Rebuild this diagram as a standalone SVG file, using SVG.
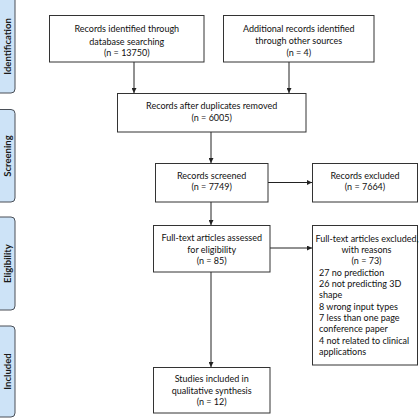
<svg xmlns="http://www.w3.org/2000/svg" width="420" height="420" viewBox="0 0 420 420">
<style>
.tab{fill:#cde3f7;stroke:#4a4f57;stroke-width:1}
.tabt{font-family:Lato,"Liberation Sans",sans-serif;font-weight:bold;font-size:9.5px;fill:#1a1a1a;text-anchor:middle}
.box{fill:#fff;stroke:#333;stroke-width:1}
.t{font-family:Lato,"Liberation Sans",sans-serif;font-size:9px;fill:#111;text-anchor:middle}
.tl{font-family:Lato,"Liberation Sans",sans-serif;font-size:9px;fill:#111}
.c{stroke:#222;stroke-width:1;fill:none;marker-end:url(#ah)}
</style>
<defs>
<marker id="ah" viewBox="0 0 10 10" refX="10" refY="5" markerWidth="5" markerHeight="5" markerUnits="userSpaceOnUse" orient="auto">
<path d="M0,0 L10,5 L0,10 z" fill="#222"/>
</marker>
</defs>
<rect width="420" height="420" fill="#fff"/>
<g id="tabs">
<g id="tab-identification"><rect class="tab" x="-6" y="-5" width="21" height="98" rx="4"/><text class="tabt" transform="translate(10.5,46.5) rotate(-90)">Identification</text></g>
<g id="tab-screening"><rect class="tab" x="-6" y="109.5" width="21" height="92.5" rx="4"/><text class="tabt" transform="translate(10.5,156) rotate(-90)">Screening</text></g>
<g id="tab-eligibility"><rect class="tab" x="-6" y="217" width="21" height="93" rx="4"/><text class="tabt" transform="translate(10.5,263.5) rotate(-90)">Eligibility</text></g>
<g id="tab-included"><rect class="tab" x="-6" y="326" width="21" height="91" rx="4"/><text class="tabt" transform="translate(10.5,371.5) rotate(-90)">Included</text></g>
</g>
<g id="connectors">
<line class="c" x1="134" y1="62" x2="134" y2="93"/>
<line class="c" x1="289" y1="62" x2="289" y2="93"/>
<line class="c" x1="211" y1="132" x2="211" y2="163"/>
<line class="c" x1="211" y1="202" x2="211" y2="225"/>
<line class="c" x1="268" y1="182.5" x2="312" y2="182.5"/>
<line class="c" x1="270" y1="248" x2="312" y2="248"/>
<line class="c" x1="211" y1="272" x2="211" y2="367"/>
</g>
<g id="n1"><rect class="box" x="49.5" y="15.5" width="154.5" height="46.5"/>
<text class="t" x="126.8" y="31.5">Records identified through</text>
<text class="t" x="126.8" y="44.5">database searching</text>
<text class="t" x="126.8" y="55.5">(n = 13750)</text></g>
<g id="n2"><rect class="box" x="223.5" y="15.5" width="150.5" height="46.5"/>
<text class="t" x="298.8" y="31.5">Additional records identified</text>
<text class="t" x="298.8" y="43.5">through other sources</text>
<text class="t" x="298.8" y="55.5">(n = 4)</text></g>
<g id="n3"><rect class="box" x="117.5" y="93.5" width="188.5" height="38.5"/>
<text class="t" x="211.7" y="109">Records after duplicates removed</text>
<text class="t" x="211.7" y="120.5">(n = 6005)</text></g>
<g id="n4"><rect class="box" x="155.5" y="163.5" width="112.5" height="38.5"/>
<text class="t" x="211.7" y="178.7">Records screened</text>
<text class="t" x="211.7" y="190.3">(n = 7749)</text></g>
<g id="n5"><rect class="box" x="312.5" y="163.5" width="105" height="38.5"/>
<text class="t" x="365" y="178.7">Records excluded</text>
<text class="t" x="365" y="190.3">(n = 7664)</text></g>
<g id="n6"><rect class="box" x="153.5" y="225.5" width="116.5" height="46.5"/>
<text class="t" x="211.7" y="241.3">Full-text articles assessed</text>
<text class="t" x="211.7" y="253">for eligibility</text>
<text class="t" x="211.7" y="264.3">(n = 85)</text></g>
<g id="n7"><rect class="box" x="312.5" y="225.5" width="105" height="139.5"/>
<text class="t" x="367" y="242">Full-text articles excluded,</text>
<text class="t" x="366.5" y="253.2">with reasons</text>
<text class="t" x="366.5" y="264.2">(n = 73)</text>
<text class="tl" x="319" y="275.6">27 no prediction</text>
<text class="tl" x="319" y="287">26 not predicting 3D</text>
<text class="tl" x="319" y="298.3">shape</text>
<text class="tl" x="319" y="309.6">8 wrong input types</text>
<text class="tl" x="319" y="321">7 less than one page</text>
<text class="tl" x="319" y="332.3">conference paper</text>
<text class="tl" x="319" y="343.7">4 not related to clinical</text>
<text class="tl" x="319" y="355">applications</text></g>
<g id="n8"><rect class="box" x="153.5" y="367.5" width="116.5" height="45.5"/>
<text class="t" x="211.7" y="382.3">Studies included in</text>
<text class="t" x="211.7" y="393.7">qualitative synthesis</text>
<text class="t" x="211.7" y="404.7">(n = 12)</text></g>
</svg>
